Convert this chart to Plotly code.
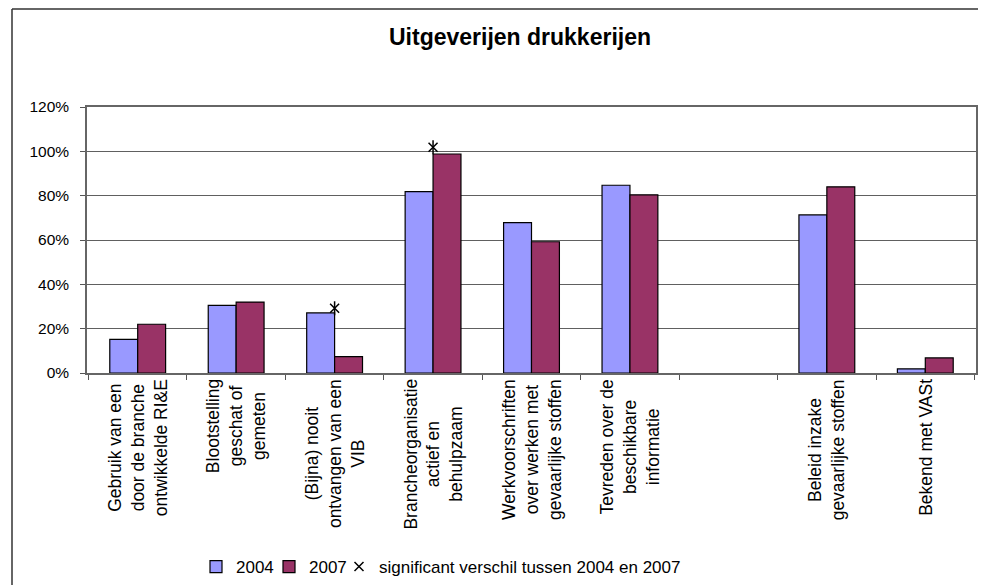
import plotly.graph_objects as go

categories = [
    "Gebruik van een<br>door de branche<br>ontwikkelde RI&E",
    "Blootstelling<br>geschat of<br>gemeten",
    "(Bijna) nooit<br>ontvangen van een<br>VIB",
    "Brancheorganisatie<br>actief en<br>behulpzaam",
    "Werkvoorschriften<br>over werken met<br>gevaarlijke stoffen",
    "Tevreden over de<br>beschikbare<br>informatie",
    " ",
    "Beleid inzake<br>gevaarlijke stoffen",
    "Bekend met VASt",
]
values_2004 = [0.152, 0.305, 0.271, 0.818, 0.678, 0.847, None, 0.713, 0.019]
values_2007 = [0.220, 0.320, 0.074, 0.988, 0.592, 0.804, None, 0.840, 0.068]
significant = [None, None, 0.292, 1.018, None, None, None, None, None]
y_ticks = [0, 0.2, 0.4, 0.6, 0.8, 1.0, 1.2]

OFF = 8  # page body margin
W, H = 986 - OFF, 585 - OFF
ML, MR, MT, MB = 87 - OFF, 10, 107 - OFF, 212
PW, PH = W - ML - MR, H - MT - MB

def px_x(p):  # page pixel -> paper x
    return (p - OFF - ML) / PW

def px_y(p):  # page pixel -> paper y
    return (H - MB - (p - OFF)) / PH

FONT = "Arial, Liberation Sans, sans-serif"

fig = go.Figure()
fig.add_trace(go.Bar(
    x=categories, y=values_2004, name="2004", legend="legend",
    marker=dict(color="#9999FF", line=dict(color="black", width=1.2)),
))
fig.add_trace(go.Bar(
    x=categories, y=values_2007, name="2007", legend="legend2",
    marker=dict(color="#993366", line=dict(color="black", width=1.2)),
))
fig.add_trace(go.Scatter(
    x=categories, y=significant, mode="markers", showlegend=False,
    hoverinfo="skip",
    marker=dict(symbol="line-ns-open", size=10, color="black", line=dict(color="black", width=1.5)),
))
fig.add_trace(go.Scatter(
    x=categories, y=significant, mode="markers", legend="legend3",
    name="significant verschil tussen 2004 en 2007",
    marker=dict(symbol="x-thin-open", size=9, color="black", line=dict(color="black", width=1.5)),
))

for c in categories:
    fig.add_annotation(
        x=c, xref="x", y=px_y(377), yref="paper",
        text=c, textangle=-90, showarrow=False,
        xanchor="center", yanchor="top", align="center",
        font=dict(family=FONT, size=17.5, color="black"),
    )

# outer chart-area border (left and top edges visible)
fig.add_shape(type="line", xref="paper", yref="paper",
              x0=px_x(12), x1=px_x(12), y0=px_y(9), y1=px_y(600),
              line=dict(color="#333333", width=1.5))
fig.add_shape(type="line", xref="paper", yref="paper",
              x0=px_x(12), x1=px_x(1000), y0=px_y(9), y1=px_y(9),
              line=dict(color="#333333", width=1.5))

legend_common = dict(orientation="h", xanchor="left", yanchor="middle", y=px_y(567),
                     font=dict(family=FONT, size=17, color="black"), itemwidth=30,
                     bgcolor="rgba(0,0,0,0)", borderwidth=0)

fig.update_layout(
    width=W, height=H,
    margin=dict(l=ML, r=MR, t=MT, b=MB, autoexpand=False),
    paper_bgcolor="white", plot_bgcolor="white",
    barmode="group", bargap=0.433, bargroupgap=0,
    font=dict(family=FONT, color="black"),
    title=dict(text="<b>Uitgeverijen drukkerijen</b>", x=(520 - OFF) / W, xanchor="center",
               y=1 - (37 - OFF) / H, yanchor="middle", xref="container", yref="container",
               font=dict(family=FONT, size=23, color="black")),
    legend=dict(legend_common, x=px_x(236 - 40)),
    legend2=dict(legend_common, x=px_x(309 - 40)),
    legend3=dict(legend_common, x=px_x(379 - 40)),
    showlegend=True,
)
fig.update_xaxes(
    type="category", showticklabels=False, tickson="boundaries",
    ticks="outside", ticklen=5, tickcolor="#555555",
    showline=True, linecolor="#666666", linewidth=1.5, mirror=True,
    showgrid=False, zeroline=False,
)
fig.update_yaxes(
    range=[0, 1.2], tickvals=y_ticks, tickformat=".0%",
    ticks="outside", ticklen=5, tickcolor="#555555", ticklabelstandoff=8,
    tickfont=dict(family=FONT, size=15.5, color="black"),
    showline=True, linecolor="#666666", linewidth=1.5, mirror=True,
    showgrid=True, gridcolor="#606060", gridwidth=1, zeroline=False,
)

fig.write_html("out.html")
